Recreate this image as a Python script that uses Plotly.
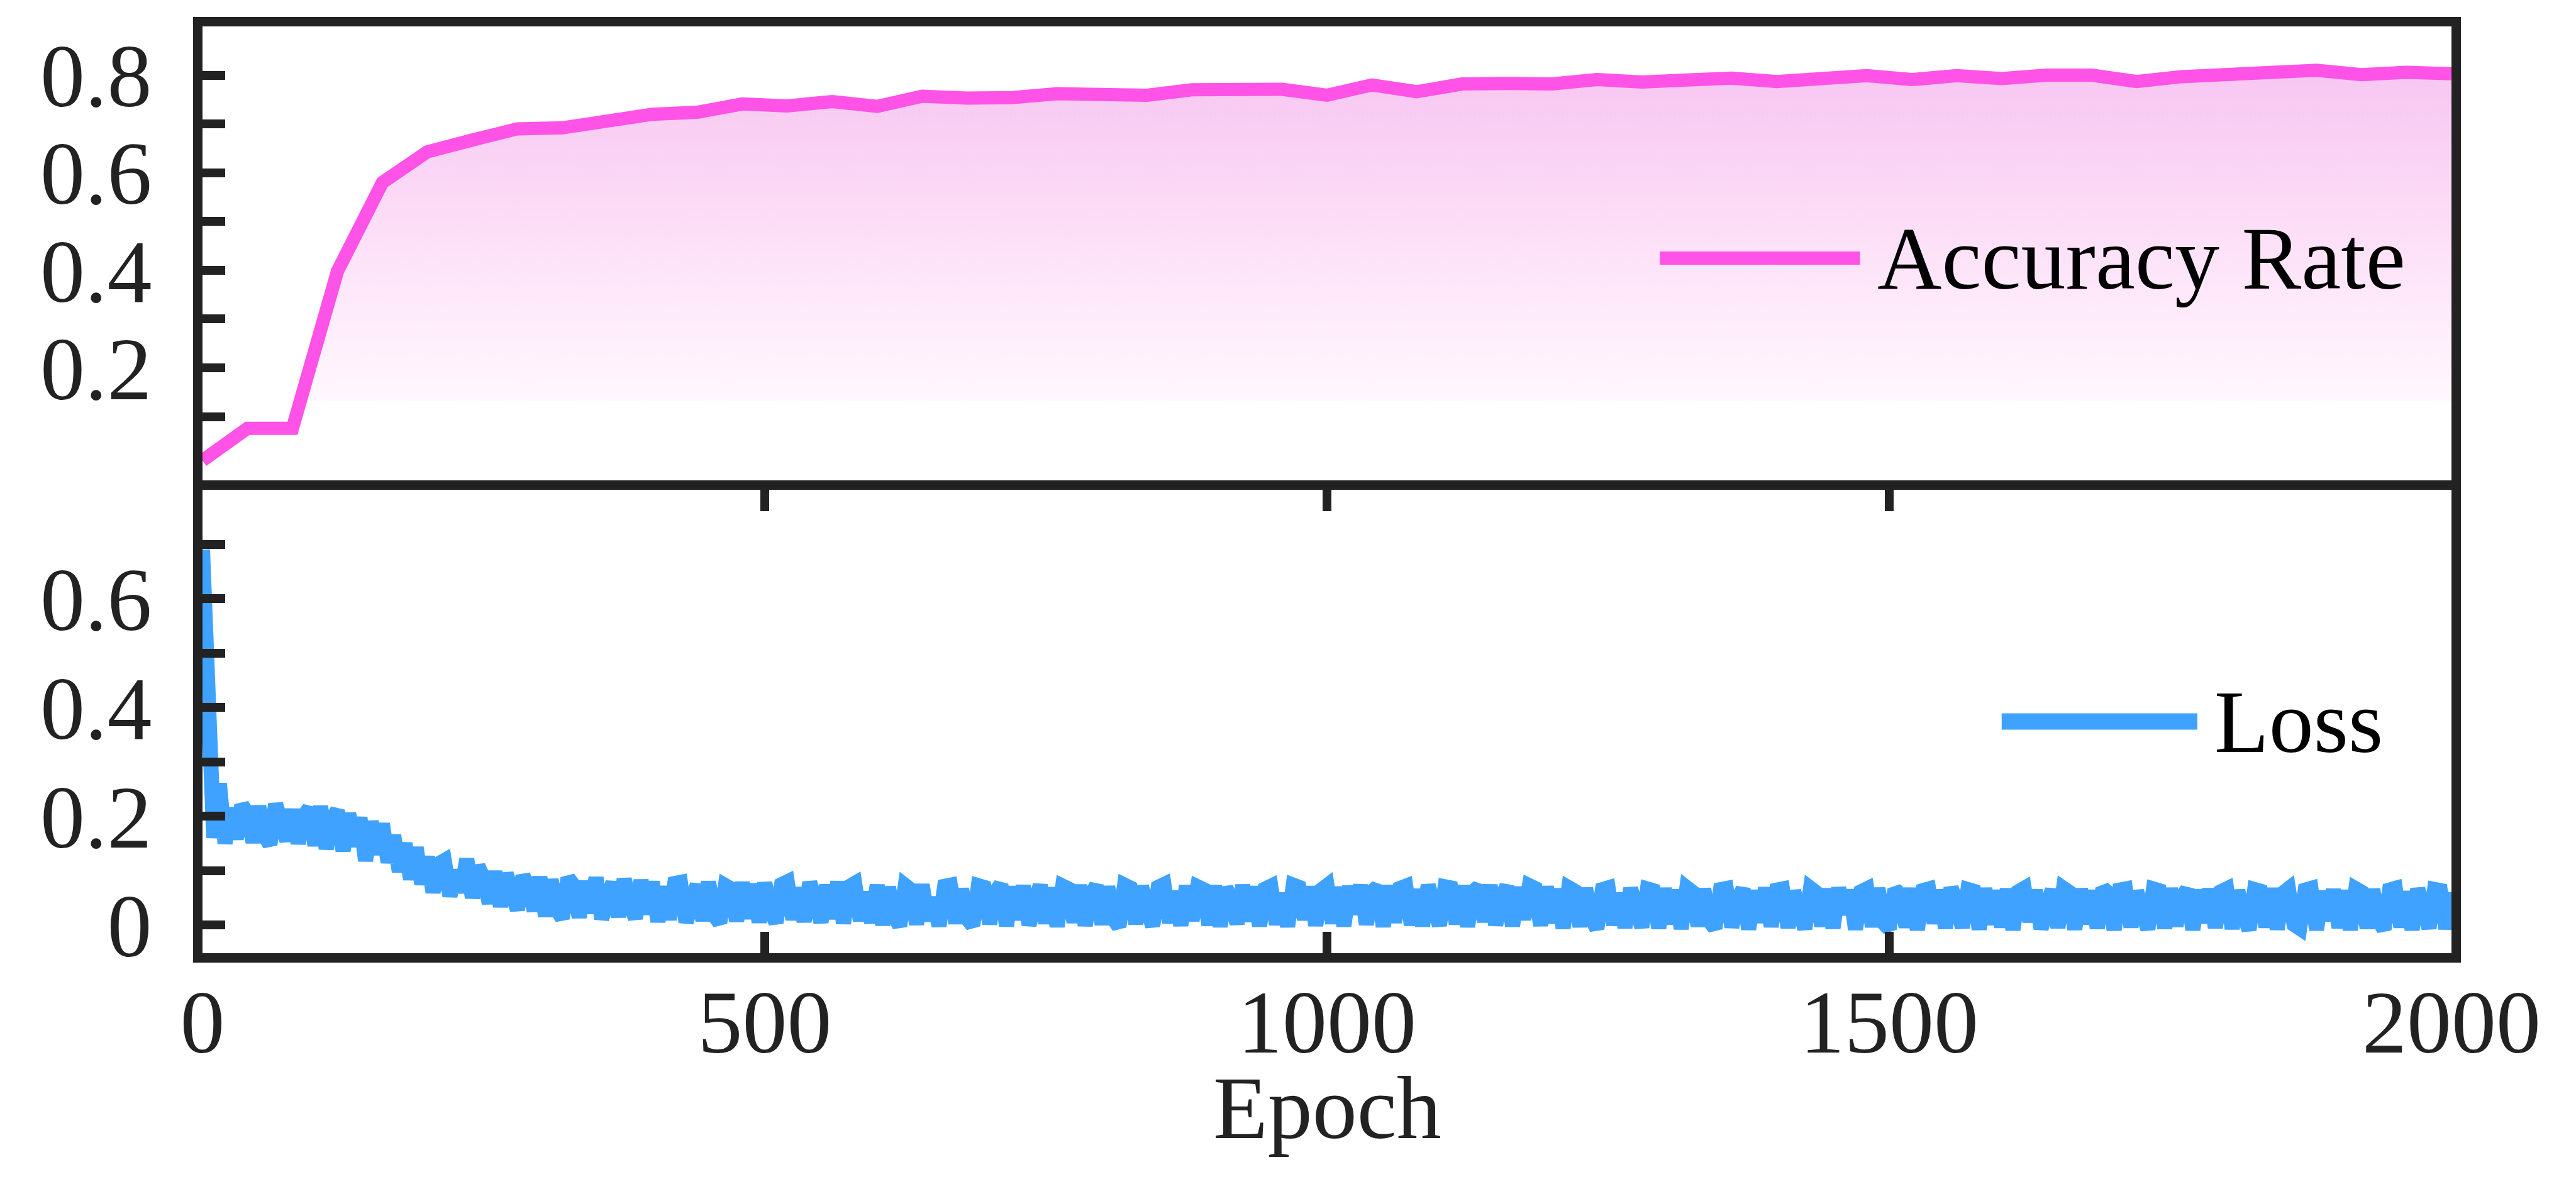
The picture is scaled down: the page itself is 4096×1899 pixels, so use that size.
import plotly.graph_objects as go
from plotly.subplots import make_subplots

# accuracy, logged every 40 epochs
acc_epoch = list(range(0, 2001, 40))
acc_rate = [0.010, 0.076, 0.076, 0.398, 0.580, 0.643, 0.667, 0.690, 0.692, 0.708,
            0.720, 0.724, 0.741, 0.737, 0.746, 0.736, 0.757, 0.753, 0.754, 0.762,
            0.762, 0.759, 0.770, 0.770, 0.771, 0.759, 0.780, 0.766, 0.782, 0.783,
            0.782, 0.791, 0.786, 0.790, 0.794, 0.787, 0.791, 0.799, 0.791, 0.799,
            0.793, 0.800, 0.800, 0.787, 0.797, 0.801, 0.805, 0.810, 0.801, 0.806,
            0.803]

# loss, read every 5 epochs (edges of the noisy band)
loss_epoch = list(range(0, 2001, 5))
loss = [
    0.69, 0.30, 0.16, 0.26, 0.15, 0.215, 0.158, 0.22, 0.205, 0.152, 0.218, 0.165, 0.148, 0.222, 0.19, 0.155, 0.212, 0.15, 0.2, 0.214,
    0.146, 0.218, 0.14, 0.195, 0.21, 0.136, 0.205, 0.145, 0.197, 0.118, 0.19, 0.13, 0.186, 0.115, 0.165, 0.098, 0.15, 0.084, 0.142, 0.075,
    0.125, 0.06, 0.112, 0.118, 0.053, 0.1, 0.06, 0.121, 0.05, 0.108, 0.085, 0.04, 0.098, 0.034, 0.094, 0.05, 0.028, 0.09, 0.07, 0.026,
    0.088, 0.016, 0.083, 0.03, 0.012, 0.086, 0.072, 0.014, 0.08, 0.022, 0.087, 0.011, 0.06, 0.078, 0.015, 0.084, 0.04, 0.012, 0.082, 0.02,
    0.079, 0.006, 0.07, 0.01, 0.076, 0.078, 0.005, 0.05, 0.074, 0.008, 0.079, 0.018, 0.004, 0.072, 0.066, 0.007, 0.078, 0.012, 0.075, 0.005,
    0.077, 0.03, 0.004, 0.074, 0.079, 0.01, 0.068, 0.006, 0.078, 0.045, 0.005, 0.073, 0.012, 0.079, 0.003, 0.07, 0.076, 0.008, 0.06, 0.004,
    0.073, 0.0, 0.069, 0.02, -0.002, 0.072, 0.064, 0.001, 0.074, 0.008, 0.05, -0.002, 0.071, 0.073, 0.003, 0.066, 0.012, -0.001, 0.072, 0.069,
    0.002, 0.06, 0.074, -0.002, 0.07, 0.01, 0.072, 0.0, 0.04, 0.073, 0.003, 0.068, -0.003, 0.071, 0.066, 0.005, 0.073, -0.001, 0.055, 0.072,
    0.001, 0.07, 0.012, -0.003, 0.073, 0.068, 0.002, 0.071, 0.03, -0.002, 0.069, 0.074, 0.004, 0.062, -0.001, 0.072, 0.008, 0.07, 0.065, 0.0,
    0.072, -0.003, 0.068, 0.045, 0.002, 0.073, 0.007, 0.07, -0.002, 0.066, 0.071, 0.001, 0.058, -0.003, 0.073, 0.069, 0.01, 0.07, -0.001, 0.064,
    0.072, 0.003, 0.069, -0.002, 0.071, 0.02, 0.073, 0.001, 0.06, 0.07, -0.003, 0.072, 0.005, 0.067, 0.071, 0.0, 0.065, -0.002, 0.073, 0.035,
    -0.001, 0.07, 0.068, 0.002, 0.072, -0.003, 0.061, 0.07, 0.006, 0.073, 0.0, 0.05, 0.071, -0.002, 0.069, 0.01, 0.072, 0.067, -0.001, 0.07,
    0.004, 0.066, -0.006, 0.068, 0.062, -0.003, 0.067, 0.015, -0.007, 0.065, 0.068, 0.0, 0.058, -0.005, 0.067, 0.03, -0.004, 0.066, 0.063, -0.006,
    0.067, 0.002, 0.064, -0.007, 0.068, 0.06, -0.002, 0.066, 0.008, -0.006, 0.065, 0.067, -0.004, 0.045, 0.066, -0.008, 0.063, 0.005, 0.068, -0.003,
    0.064, 0.066, -0.005, 0.062, 0.01, -0.007, 0.067, 0.059, -0.002, 0.066, -0.006, 0.068, 0.02, 0.064, -0.008, 0.061, 0.066, -0.003, 0.067, 0.004,
    -0.007, 0.065, 0.055, -0.004, 0.067, -0.009, 0.063, 0.066, 0.003, 0.064, -0.006, 0.068, 0.04, -0.005, 0.065, 0.062, -0.008, 0.067, 0.001, 0.063,
    -0.004, 0.066, -0.009, 0.061, 0.067, 0.006, 0.064, -0.007, 0.03, 0.065, -0.005, 0.067, 0.06, -0.008, 0.066, 0.002, 0.063, -0.006, 0.067, 0.058,
    -0.009, 0.064, 0.066, -0.004, 0.062, 0.012, -0.008, 0.066, 0.063, -0.006, 0.067, -0.002, 0.05, 0.065, -0.009, 0.064, 0.004, 0.066, -0.005, 0.061,
    0.066, -0.007, 0.063, 0.02, -0.009, 0.065, 0.062, -0.004, 0.067, -0.008, 0.058, 0.066, 0.001, -0.006, 0.064, 0.067, -0.009, 0.062, 0.008, 0.065,
    -0.005, 0.063, -0.009, 0.066, 0.06, -0.006, 0.065, 0.01, -0.008, 0.064, 0.067, -0.004, 0.061, -0.009, 0.066, 0.035, -0.006, 0.065, 0.063, -0.007,
    0.06,
]

x_ticks = [0, 500, 1000, 1500, 2000]
acc_ticks = [0.1, 0.2, 0.3, 0.4, 0.5, 0.6, 0.7, 0.8]
acc_ticktext = ["", "0.2", "", "0.4", "", "0.6", "", "0.8"]
loss_ticks = [0, 0.1, 0.2, 0.3, 0.4, 0.5, 0.6, 0.7]
loss_ticktext = ["0", "", "0.2", "", "0.4", "", "0.6", ""]

fill_floor = 0.131  # where the shaded band under the accuracy curve stops

PINK = "#FF52E6"
BLUE = "#3FA2FF"
INK = "#222222"
FONT = "Liberation Serif"

fig = make_subplots(rows=2, cols=1, shared_xaxes=True, vertical_spacing=0)

fig.add_trace(go.Scatter(
    x=acc_epoch, y=acc_rate, mode="lines", name="Accuracy Rate",
    line=dict(color=PINK, width=21),
    fill="tozeroy",
    fillgradient=dict(type="vertical", start=fill_floor, stop=max(acc_rate),
                      colorscale=[[0, "rgba(255,255,255,0)"],
                                  [0.002, "rgba(255,248,254,1)"],
                                  [0.45, "rgba(253,226,248,1)"],
                                  [1, "rgba(247,198,241,1)"]]),
), row=1, col=1)

fig.add_trace(go.Scatter(
    x=loss_epoch, y=loss, mode="lines", name="Loss",
    line=dict(color=BLUE, width=24),
), row=2, col=1)

axis_common = dict(showline=True, linewidth=15, linecolor=INK,
                   showgrid=False, zeroline=False,
                   tickfont=dict(family=FONT, size=142, color=INK))

fig.update_xaxes(axis_common, range=[0, 2000])
# top panel: only its top border, the middle border comes from the lower panel
fig.update_xaxes(ticks="", showticklabels=False, side="top", mirror=False,
                 row=1, col=1)
fig.update_xaxes(ticks="inside", mirror="ticks", ticklen=34, tickwidth=14,
                 tickcolor=INK, tickvals=x_ticks, ticklabelstandoff=-27,
                 row=2, col=1)

fig.update_yaxes(axis_common, mirror=True, ticks="inside", ticklen=36, tickwidth=14,
                 tickcolor=INK, ticklabelstandoff=37)
fig.update_yaxes(range=[-0.05, 0.9], tickvals=acc_ticks, ticktext=acc_ticktext,
                 row=1, col=1)
fig.update_yaxes(range=[-0.052, 0.8], tickvals=loss_ticks, ticktext=loss_ticktext,
                 row=2, col=1)

# x-axis title placed as an annotation (axis title standoff cannot go low enough)
fig.add_annotation(xref="x2 domain", yref="paper", x=0.5, y=-0.167, text="Epoch",
                   showarrow=False, xanchor="center", yanchor="middle",
                   font=dict(family=FONT, size=142, color=INK))

# legend entries drawn by hand so the sample line is as long as in the original
legend_items = [("Accuracy Rate", PINK, 21, "x domain", "y domain", 0.648, 0.737),
                ("Loss", BLUE, 26, "x2 domain", "y2 domain", 0.800, 0.887)]
for label, color, lw, xr, yr, x0, x1 in legend_items:
    fig.add_shape(type="line", xref=xr, yref=yr, x0=x0, x1=x1, y0=0.5, y1=0.5,
                  line=dict(color=color, width=lw))
    fig.add_annotation(xref=xr, yref=yr, x=x1 + 0.007, y=0.5, text=label,
                       showarrow=False, xanchor="left", yanchor="middle",
                       font=dict(family=FONT, size=142, color="black"))

fig.update_layout(
    width=4096, height=1899,
    margin=dict(l=314, r=206, t=34, b=391, autoexpand=False),
    plot_bgcolor="white", paper_bgcolor="white",
    showlegend=False,
    font=dict(family=FONT, size=142, color=INK),
)

fig.write_html("out.html")
